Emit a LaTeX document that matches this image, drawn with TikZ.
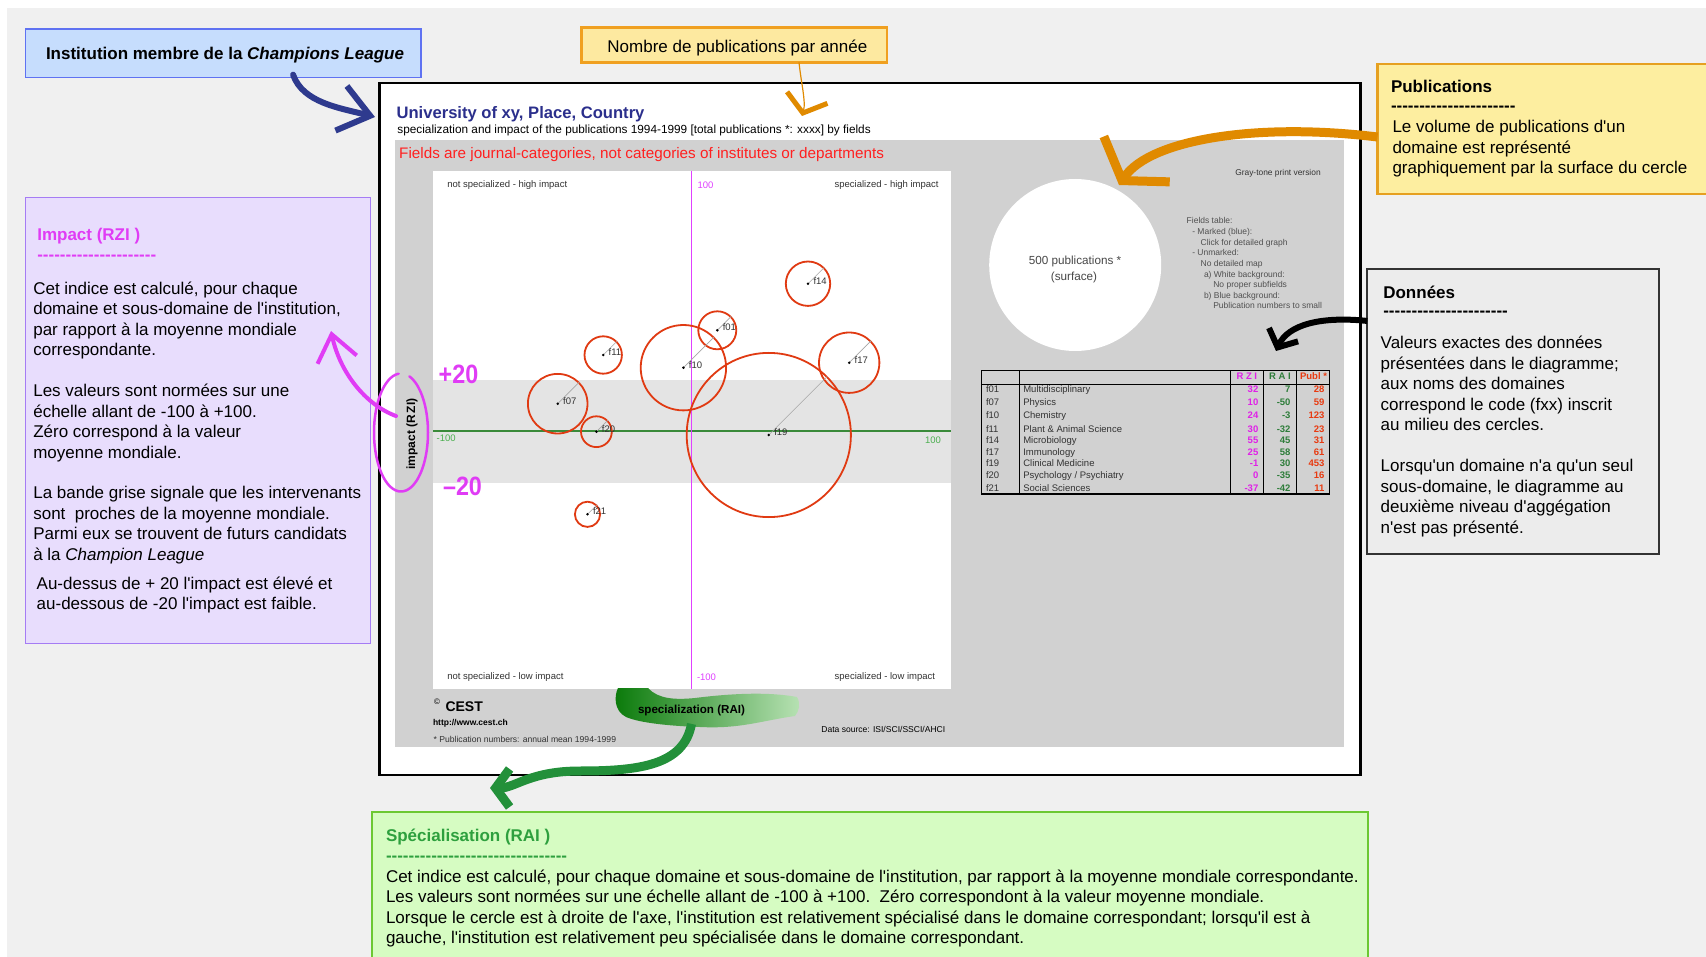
\documentclass[tikz,border=0pt]{standalone}
\usepackage{fontspec}
\setmainfont{Liberation Sans}[Ligatures=TeXOff]
\usepackage{graphicx}
\usetikzlibrary{arrows.meta,calc}

\definecolor{pagebg}{HTML}{F0F0F0}
\definecolor{instfill}{HTML}{C6DDFD}
\definecolor{instline}{HTML}{5F72F2}
\definecolor{nbfill}{HTML}{FDE9A0}
\definecolor{nbline}{HTML}{F0A020}
\definecolor{pubfill}{HTML}{FDEEA0}
\definecolor{publine}{HTML}{E6A020}
\definecolor{impfill}{HTML}{E8DDFD}
\definecolor{impline}{HTML}{A57CF4}
\definecolor{hand}{HTML}{E03CF5}
\definecolor{datfill}{HTML}{ECECEC}
\definecolor{datline}{HTML}{333333}
\definecolor{specfill}{HTML}{D6FCC2}
\definecolor{specline}{HTML}{6CC832}
\definecolor{spectitle}{HTML}{2EA03E}
\definecolor{unititle}{HTML}{2B2F8C}
\definecolor{fieldred}{HTML}{FF2020}
\definecolor{panelgray}{HTML}{D1D1D1}
\definecolor{bandgray}{HTML}{E4E4E4}
\definecolor{axisgreen}{HTML}{3A8A3A}
\definecolor{axisgreenlt}{HTML}{4CAF50}
\definecolor{vaxis}{HTML}{E040FF}
\definecolor{ring}{HTML}{E03A12}
\definecolor{rzi}{HTML}{E020E8}
\definecolor{rai}{HTML}{2E7D3A}
\definecolor{publ}{HTML}{E83A10}
\definecolor{arrblue}{HTML}{2E3A8E}
\definecolor{arrorange}{HTML}{E08A00}
\definecolor{arrgreen}{HTML}{23903A}
\definecolor{txtgray}{HTML}{333333}
\definecolor{legendgray}{HTML}{505050}
\definecolor{blobdark}{HTML}{0A7A0A}
\definecolor{bloblight}{HTML}{B8E2B4}

\newcommand\setfs[2]{\fontsize{#1}{#2}\selectfont}
\newcommand\textlines[2]{\parbox[t]{#1}{\raggedright #2}}

\begin{document}
\begin{tikzpicture}[x=1pt,y=-1pt,
  txt/.style={anchor=base west, inner sep=0pt, outer sep=0pt},
  txtr/.style={anchor=base east, inner sep=0pt, outer sep=0pt},
  txtc/.style={anchor=base, inner sep=0pt, outer sep=0pt},
  body/.style={txt, font=\setfs{17}{20.5}, text=black},
  boxtitle/.style={txt, font=\bfseries\setfs{17}{20.5}},
  panelbox/.style={anchor=north west, inner sep=0pt, outer sep=0pt},
  small/.style={font=\setfs{9.5}{11}, text=txtgray},
  legend/.style={txt, font=\setfs{8.5}{10}, text=legendgray},
  ringnode/.style={circle, draw=ring, line width=1.8pt, inner sep=0pt},
  dotnode/.style={circle, fill=black, inner sep=0pt, minimum size=2.8pt},
  radius line/.style={draw=gray!70, line width=0.6pt},
  bubblelabel/.style={txt, font=\setfs{9.5}{11}, text=txtgray},
  cell/.style={font=\setfs{9.5}{11}, text=txtgray},
  num/.style={txtr, font=\bfseries\setfs{9.5}{11}},
  handnum/.style={txtc, font=\bfseries\setfs{26.5}{28}, text=hand, xscale=0.88, transform shape},
]
\useasboundingbox (0,0) rectangle (1706,957);
\fill[white] (0,0) rectangle (1706,957);
\fill[pagebg] (7,8) rectangle (1706,957);

% ---------- chart sheet ----------
\node[panelbox, draw=black, line width=2.5pt, fill=white, minimum width=981pt, minimum height=692pt] (frame) at (379.5,83) {};
\fill[panelgray] (395,140) rectangle (1344,747);

\node[txt, font=\bfseries\setfs{16.6}{20}, text=unititle] (unititle) at (396.6,118.7) {University of xy, Place, Country};
\node[txt, font=\setfs{11.8}{14}] (subtitle) at (397.4,133.5) {specialization and impact of the publications 1994-1999 [total publications *: xxxx] by fields};
\node[txt, font=\setfs{15.25}{18}, text=fieldred] (fieldnote) at (399.2,158.8) {Fields are journal-categories, not categories of institutes or departments};

% plot area
\fill[white] (433,171) rectangle (951,689);
\fill[bandgray] (433,380) rectangle (951,483);
\draw[draw=axisgreen, line width=1.3pt] (433,431) -- (951,431);
\fill[vaxis] (690.8,171) rectangle (692.4,689);

\node[txt, small] at (447.3,187.4) {not specialized - high impact};
\node[txtr, small] at (938.6,187.4) {specialized - high impact};
\node[txt, small, text=vaxis] at (697.5,189) {100};
\node[txt, small] at (447.3,679) {not specialized - low impact};
\node[txtr, small] at (935,679) {specialized - low impact};
\node[txt, small, text=vaxis] at (697,680) {-100};
\node[txt, small, text=axisgreenlt] at (436.6,441.5) {-100};
\node[txtr, small, text=axisgreenlt] at (941,443.5) {100};

\node[font=\bfseries\setfs{12}{14}, rotate=90, inner sep=0pt] (rzilabel) at (412,434) {impact (R\,ZI)};

% field bubbles: name / x / y / radius
\foreach \n/\x/\y/\r in {f01/717.3/330.3/19, f07/557.7/403.7/29.8, f10/683.4/367.7/42.7,
    f11/603.2/355/18.7, f14/808/283.7/22.2, f17/849.2/362.7/30.2, f19/768.8/435/82.1,
    f20/596.4/431.7/15.4, f21/587.5/514.3/12.6} {
  \node[ringnode, minimum size={2*\r*1pt}] (\n-c) at (\x,\y) {};
  \draw[radius line] (\x,\y) -- (\n-c.45);
  \node[dotnode] (\n) at (\x,\y) {};
  \node[bubblelabel] at ([xshift=5.5pt, yshift=-0.5pt]\n.center) {\n};
}

% reference circle
\node[circle, fill=white, inner sep=0pt, minimum size=172pt] (refcircle) at (1075.2,265) {};
\node[txtc, font=\setfs{11.7}{14}, text=txtgray!90] at (1075,264.2) {500 publications *};
\node[txtc, font=\setfs{11.7}{14}, text=txtgray!90] at (1074,281) {(surface)};

\node[txtr, font=\setfs{8.4}{10}, text=txtgray] at (1320.7,175.3) {Gray-tone print version};
\node[legend] at (1186.7,223.7) {Fields table:};
\node[legend] at (1192.3,234.7) {- Marked (blue):};
\node[legend] at (1200.7,245.3) {Click for detailed graph};
\node[legend] at (1192.3,255.7) {- Unmarked:};
\node[legend] at (1200.7,267) {No detailed map};
\node[legend] at (1204,278) {a) White background:};
\node[legend] at (1213.3,288) {No proper subfields};
\node[legend] at (1204,298.7) {b) Blue background:};
\node[legend] at (1213.3,309) {Publication numbers to small};

% fields table
\draw[line width=1.3pt] (981.5,370.5) rectangle (1329.5,494);
\draw[line width=0.9pt] (981.5,384) -- (1329.5,384);
\foreach \cx in {1019.5,1230.3,1263.3,1296.7} \draw[line width=0.9pt] (\cx,370.5) -- (\cx,494);
\node[txtc, font=\bfseries\setfs{9.5}{11}, text=rzi] at (1246.8,380) {R Z I};
\node[txtc, font=\bfseries\setfs{9.5}{11}, text=rai] at (1280,380) {R A I};
\node[txtc, font=\bfseries\setfs{9.5}{11}, text=publ] at (1313.5,380) {Publ *};
\foreach \c/\name/\zi/\ai/\pu/\y in {f01/Multidisciplinary/32/7/28/392.9,
    f07/Physics/10/-50/59/406, f10/Chemistry/24/-3/123/419,
    f11/Plant \& Animal Science/30/-32/23/432.1, f14/Microbiology/55/45/31/444,
    f17/Immunology/25/58/61/456, f19/Clinical Medicine/-1/30/453/466.9,
    f20/{Psychology / Psychiatry}/0/-35/16/478.9, f21/Social Sciences/-37/-42/11/491.9} {
  \node[txt, cell] at (986,\y) {\c};
  \node[txt, cell] at (1023.3,\y) {\name};
  \node[num, text=rzi] at (1258.3,\y) {\zi};
  \node[num, text=rai] at (1290.5,\y) {\ai};
  \node[num, text=publ] at (1324.5,\y) {\pu};
}

% footer of the sheet
\node[txt, font=\setfs{8}{9}] at (434,704.5) {\textcopyright};
\node[txt, font=\bfseries\setfs{14}{16}] (cest) at (445.5,711.7) {CEST};
\node[txt, font=\bfseries\setfs{8.5}{10}] at (433,725.4) {http://www.cest.ch};
\node[txt, font=\setfs{8.6}{10}, text=txtgray] at (433.6,742.4) {* Publication numbers: annual mean 1994-1999};
\node[txt, font=\setfs{8.55}{10}] at (821.4,732.4) {Data source: ISI/SCI/SSCI/AHCI};

% brush stroke behind the x-axis title
\shade[left color=blobdark, right color=bloblight]
  (618,688) -- (648,688) .. controls (658,699) and (675,700) .. (695,698)
  .. controls (735,693) and (770,692) .. (797,697)
  .. controls (801,704) and (799,711) .. (795,716)
  .. controls (760,721) and (740,729) .. (700,727)
  .. controls (670,726) and (640,723) .. (626,717)
  .. controls (614,711) and (614,696) .. cycle;
\node[txtc, font=\bfseries\setfs{11.6}{14}] (raitext) at (691.5,713.5) {specialization (RAI)};

% ---------- annotation boxes ----------
\node[panelbox, draw=instline, line width=1.5pt, fill=instfill, minimum width=395.5pt, minimum height=48.7pt] (instbox) at (25.3,29) {};
\node[txtc, font=\bfseries\setfs{17}{20}] at (225,59.4) {Institution membre de la \textit{Champions League}};

\node[panelbox, draw=nbline, line width=2.5pt, fill=nbfill, minimum width=305.5pt, minimum height=34.6pt] (nbox) at (581.5,27.7) {};
\node[txtc, font=\setfs{17}{20}] at (737.4,52.8) {Nombre de publications par année};

\node[panelbox, draw=publine, line width=2.5pt, fill=pubfill, minimum width=335pt, minimum height=130pt] (pubbox) at (1377.5,64) {};
\node[boxtitle] at (1391,92.8) {Publications};
\node[boxtitle] at (1391,111.6) {----------------------};
\node[body] at (1392.5,133) {\textlines{320pt}{Le volume de publications d'un\\ domaine est représenté\\ graphiquement par la surface du cercle}};

\node[panelbox, draw=impline, line width=1.5pt, fill=impfill, minimum width=345pt, minimum height=446pt] (impbox) at (25.3,197.3) {};
\node[boxtitle, text=hand] at (37.3,240.5) {Impact (RZI )};
\node[boxtitle, text=hand] at (37.3,260.3) {---------------------};
\node[body] at (33.3,294.3) {\textlines{340pt}{Cet indice est calculé, pour chaque\\ domaine et sous-domaine de l'institution,\\ par rapport à la moyenne mondiale\\ correspondante.\\[20.3pt] Les valeurs sont normées sur une\\ échelle allant de -100 à +100.\\ Zéro correspond à la valeur\\ moyenne mondiale.\\[20.3pt] La bande grise signale que les intervenants\\ sont\ \ proches de la moyenne mondiale.\\ Parmi eux se trouvent de futurs candidats\\ à la \textit{Champion League}}};
\node[body] at (36.7,589.3) {\textlines{340pt}{Au-dessus de + 20 l'impact est élevé et\\ au-dessous de -20 l'impact est faible.}};

\node[panelbox, draw=datline, line width=2pt, fill=datfill, minimum width=291.7pt, minimum height=284.7pt] (datbox) at (1367.3,269.3) {};
\node[boxtitle] at (1383.3,298.3) {Données};
\node[boxtitle] at (1383.3,317) {----------------------};
\node[body] at (1380.7,348.7) {\textlines{280pt}{Valeurs exactes des données\\ présentées dans le diagramme;\\ aux noms des domaines\\ correspond le code (fxx) inscrit\\ au milieu des cercles.\\[20.5pt] Lorsqu'un domaine n'a qu'un seul\\ sous-domaine, le diagramme au\\ deuxième niveau d'aggégation\\ n'est pas présenté.}};

\node[panelbox, draw=specline, line width=2.5pt, fill=specfill, minimum width=996pt, minimum height=160pt] (specbox) at (372,812) {};
\node[boxtitle, text=spectitle] at (386,841.6) {Spécialisation (RAI )};
\node[boxtitle, text=spectitle] at (386,861) {--------------------------------};
\node[body] at (386,882) {\textlines{990pt}{Cet indice est calculé, pour chaque domaine et sous-domaine de l'institution, par rapport à la moyenne mondiale correspondante.\\ Les valeurs sont normées sur une échelle allant de -100 à +100.\ \ Zéro correspondont à la valeur moyenne mondiale.\\ Lorsque le cercle est à droite de l'axe, l'institution est relativement spécialisé dans le domaine correspondant; lorsqu'il est à\\ gauche, l'institution est relativement peu spécialisée dans le domaine correspondant.}};

% ---------- hand-drawn marks ----------
\draw[hand, line width=2.5pt, line cap=round] plot[domain=-265:72, samples=90, smooth] ({401+27*cos(\x)},{432.5-59*sin(\x)});
\coordinate (ellipsept) at (396,416);
\node[handnum] (plus20) at (458.5,384) {+20};
\node[handnum] (minus20) at (462.5,495) {–20};

% ---------- arrows ----------
\coordinate (insttip) at (375,117);
\coordinate (nbtip) at (802,116);
\coordinate (pubtip) at (1119,185);
\coordinate (dattip) at (1276,351);
\coordinate (imptip) at (331,331);
\coordinate (spectip) at (490,788);

\draw[arrblue, line width=6pt, line cap=round, -{Straight Barb[length=30pt,width=46pt]}]
  ([xshift=70pt,yshift=3pt]instbox.south) .. controls (303,103) and (340,108) .. (insttip);
\draw[arrorange, line width=1.2pt, -{Straight Barb[length=16pt,width=42pt,line width=5pt]}]
  ([xshift=64.75pt]nbox.south) .. controls (801,82) and (806,102) .. (nbtip);
\draw[arrorange, line width=9pt, -{Straight Barb[length=26pt,width=80pt]}]
  ([yshift=-8pt]pubbox.west) .. controls (1255,122) and (1150,140) .. (pubtip);
\draw[black, line width=6pt, -{Straight Barb[length=14pt,width=32pt]}]
  ([yshift=90.7pt]datbox.west) .. controls (1320,316) and (1288,325) .. (dattip);
\draw[hand, line width=4pt, line cap=round, -{Straight Barb[length=26pt,width=40pt]}]
  (ellipsept) .. controls (366,405) and (340,373) .. (imptip);
\draw[arrgreen, line width=9pt, -{Straight Barb[length=14pt,width=38pt]}]
  ([yshift=-8pt]raitext.south) .. controls (684,765) and (640,771) .. (580,771)
  .. controls (530,771) and (515,788) .. (spectip);
\end{tikzpicture}
\end{document}
